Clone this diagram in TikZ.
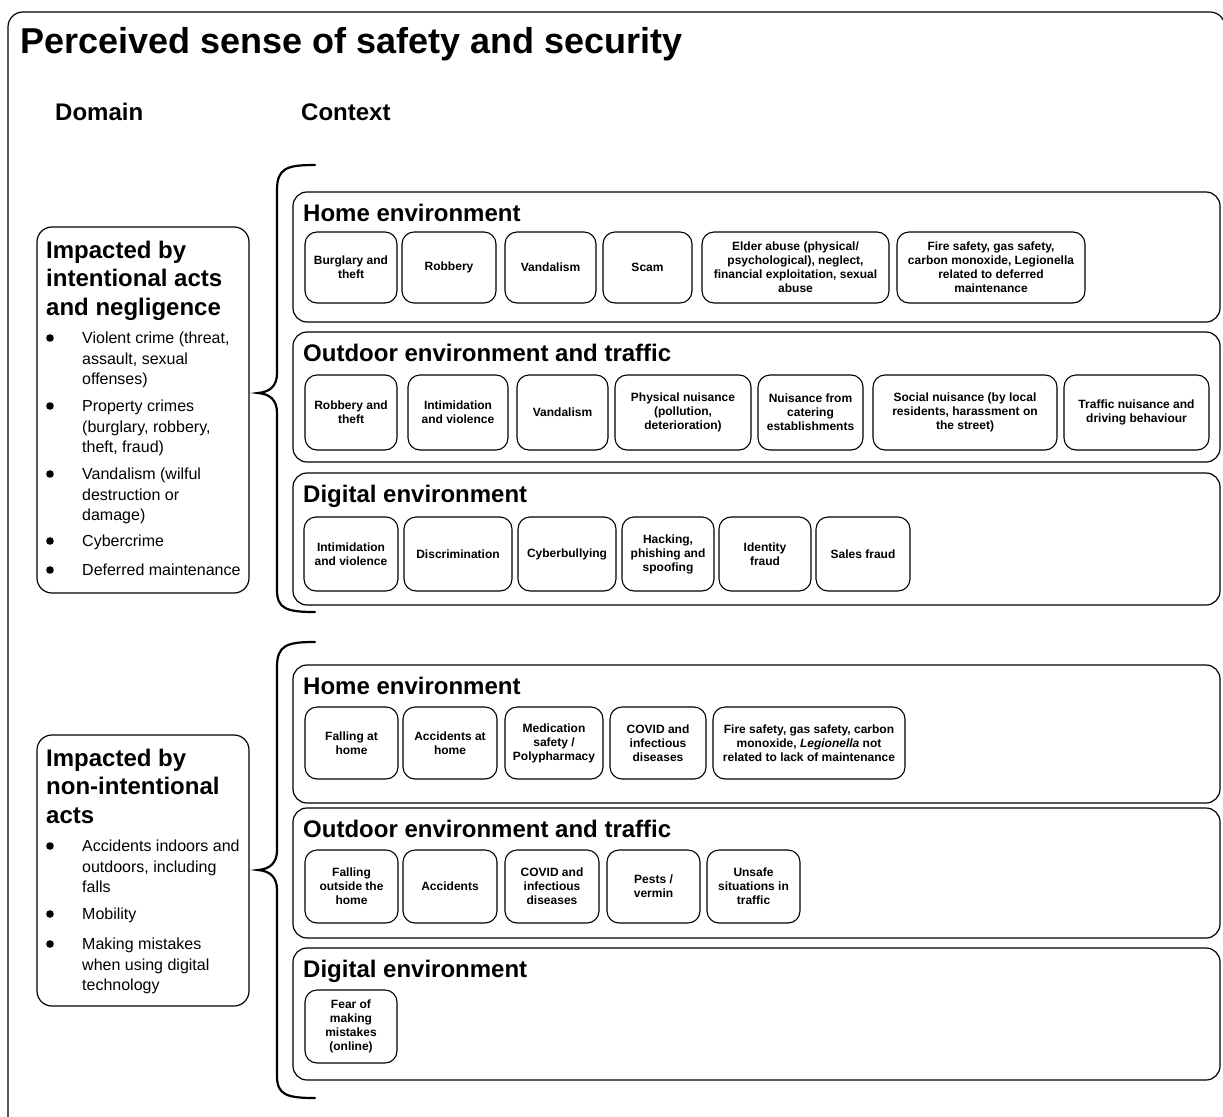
\documentclass[tikz,border=0pt]{standalone}
\usepackage{fontspec}
\setmainfont{Liberation Sans}
\tikzset{
  frameline/.style={line width=1.2pt, line join=round, rounded corners=15pt},
  secbox/.style={draw, line width=1.2pt, rounded corners=14pt, inner sep=0pt},
  dombox/.style={draw, line width=1.2pt, rounded corners=15pt, inner sep=0pt},
  itembox/.style={draw, line width=1.1pt, rounded corners=12pt, inner sep=0pt, align=center,
    font=\fontsize{12}{14}\selectfont\bfseries},
  sechead/.style={anchor=base west, inner sep=0pt, font=\fontsize{24}{28}\selectfont\bfseries},
  bigtitle/.style={anchor=base west, inner sep=0pt, font=\fontsize{36}{40}\selectfont\bfseries},
  bulltext/.style={anchor=base west, inner sep=0pt, font=\fontsize{16}{20}\selectfont},
  bracepath/.style={line width=2.2pt, line cap=round},
}
\newcommand\ibox[6]{\node[itembox, minimum width={(#3-#2)*1pt}, minimum height={(#5-#4)*1pt}] (#1) at ({(#2+#3)/2},{(#4+#5)/2}) {#6};}
\newcommand\mksec[4]{\node[secbox, minimum width={(1220-293)*1pt}, minimum height={(#3-#2)*1pt}] (#1) at ({(293+1220)/2},{(#2+#3)/2}) {};
  \node[sechead] (#1h) at (303,{#2+29.5}) {#4};}
\newcommand\bline[3]{\node[bulltext] (#1) at (82,#2) {#3};}
\newcommand\bdot[2]{\fill (50,{#2-5.5}) circle (3.8pt) coordinate (#1);}
\begin{document}
\begin{tikzpicture}[x=1pt,y=-1pt]
\useasboundingbox (0,0) rectangle (1223,1116);
% outer frame (cut off at right and bottom)
\begin{scope}
\clip (0,0) rectangle (1223,1116);
\draw[frameline] (8,1120) -- (8,12) -- (1225,12) -- (1225,60);
\end{scope}
% title
\node[bigtitle] (title) at (20,53) {Perceived sense of safety and security};
\node[sechead] (domain) at (55,120.5) {Domain};
\node[sechead] (context) at (301,120.5) {Context};

% domain boxes
\node[dombox, minimum width=212pt, minimum height=366pt] (dom1) at (143,410) {};
\node[dombox, minimum width=212pt, minimum height=271pt] (dom2) at (143,870.5) {};

% domain 1 text
\node[sechead] (d1t1) at (46,258) {Impacted by};
\node[sechead] (d1t2) at (46,286.5) {intentional acts};
\node[sechead] (d1t3) at (46,315) {and negligence};
\bdot{b11}{343.5}
\bline{l11}{343.5}{Violent crime (threat,}
\bline{l12}{364.2}{assault, sexual}
\bline{l13}{384.9}{offenses)}
\bdot{b12}{411.5}
\bline{l14}{411.5}{Property crimes}
\bline{l15}{432.2}{(burglary, robbery,}
\bline{l16}{452.9}{theft, fraud)}
\bdot{b13}{479.5}
\bline{l17}{479.5}{Vandalism (wilful}
\bline{l18}{500.2}{destruction or}
\bline{l19}{520.9}{damage)}
\bdot{b14}{546.5}
\bline{l110}{546.5}{Cybercrime}
\bdot{b15}{575.5}
\bline{l111}{575.5}{Deferred maintenance}

% domain 2 text
\node[sechead] (d2t1) at (46,766) {Impacted by};
\node[sechead] (d2t2) at (46,794.5) {non-intentional};
\node[sechead] (d2t3) at (46,823) {acts};
\bdot{b21}{851.5}
\bline{l21}{851.5}{Accidents indoors and}
\bline{l22}{872.2}{outdoors, including}
\bline{l23}{892.9}{falls}
\bdot{b22}{919.5}
\bline{l24}{919.5}{Mobility}
\bdot{b23}{949.5}
\bline{l25}{949.5}{Making mistakes}
\bline{l26}{970.2}{when using digital}
\bline{l27}{990.9}{technology}

% braces
\draw[bracepath] (315,165) .. controls (287,165) and (277,168) .. (277,190) -- (277,373)
  .. controls (277,386) and (270,392) .. (258,393) .. controls (270,394) and (277,400) .. (277,413)
  -- (277,590) .. controls (277,609) and (287,612) .. (315,612);
\draw[bracepath] (315,642) .. controls (287,642) and (277,645) .. (277,667) -- (277,850)
  .. controls (277,863) and (270,869) .. (258,870) .. controls (270,871) and (277,877) .. (277,890)
  -- (277,1076) .. controls (277,1095) and (287,1098) .. (315,1098);

% ---------- group 1 ----------
\mksec{home1}{192}{322}{Home environment}
\ibox{h1a}{305}{397}{232}{303}{Burglary and\\theft}
\ibox{h1b}{402}{496}{232}{303}{Robbery}
\ibox{h1c}{505}{596}{232}{303}{Vandalism}
\ibox{h1d}{603}{692}{232}{303}{Scam}
\ibox{h1e}{702}{889}{232}{303}{Elder abuse (physical/\\psychological), neglect,\\financial exploitation, sexual\\abuse}
\ibox{h1f}{897}{1085}{232}{303}{Fire safety, gas safety,\\carbon monoxide, Legionella\\related to deferred\\maintenance}

\mksec{out1}{332}{462}{Outdoor environment and traffic}
\ibox{o1a}{305}{397}{375}{450}{Robbery and\\theft}
\ibox{o1b}{408}{508}{375}{450}{Intimidation\\and violence}
\ibox{o1c}{517}{608}{375}{450}{Vandalism}
\ibox{o1d}{615}{751}{375}{450}{Physical nuisance\\(pollution,\\deterioration)}
\ibox{o1e}{758}{863}{375}{450}{Nuisance from\\catering\\establishments}
\ibox{o1f}{873}{1057}{375}{450}{Social nuisance (by local\\residents, harassment on\\the street)}
\ibox{o1g}{1064}{1209}{375}{450}{Traffic nuisance and\\driving behaviour}

\mksec{dig1}{473}{605}{Digital environment}
\ibox{d1a}{304}{398}{517}{591}{Intimidation\\and violence}
\ibox{d1b}{404}{512}{517}{591}{Discrimination}
\ibox{d1c}{518}{616}{517}{591}{Cyberbullying}
\ibox{d1d}{622}{714}{517}{591}{Hacking,\\phishing and\\spoofing}
\ibox{d1e}{719}{811}{517}{591}{Identity\\fraud}
\ibox{d1f}{816}{910}{517}{591}{Sales fraud}

% ---------- group 2 ----------
\mksec{home2}{665}{803}{Home environment}
\ibox{h2a}{305}{398}{707}{779}{Falling at\\home}
\ibox{h2b}{403}{497}{707}{779}{Accidents at\\home}
\ibox{h2c}{505}{603}{707}{779}{Medication\\safety /\\Polypharmacy}
\ibox{h2d}{610}{706}{707}{779}{COVID and\\infectious\\diseases}
\ibox{h2e}{713}{905}{707}{779}{Fire safety, gas safety, carbon\\monoxide, \textit{Legionella} not\\related to lack of maintenance}

\mksec{out2}{808}{938}{Outdoor environment and traffic}
\ibox{o2a}{305}{398}{850}{923}{Falling\\outside the\\home}
\ibox{o2b}{403}{497}{850}{923}{Accidents}
\ibox{o2c}{505}{599}{850}{923}{COVID and\\infectious\\diseases}
\ibox{o2d}{607}{700}{850}{923}{Pests /\\vermin}
\ibox{o2e}{707}{800}{850}{923}{Unsafe\\situations in\\traffic}

\mksec{dig2}{948}{1080}{Digital environment}
\ibox{d2a}{305}{397}{990}{1063}{Fear of\\making\\mistakes\\(online)}
\end{tikzpicture}
\end{document}
